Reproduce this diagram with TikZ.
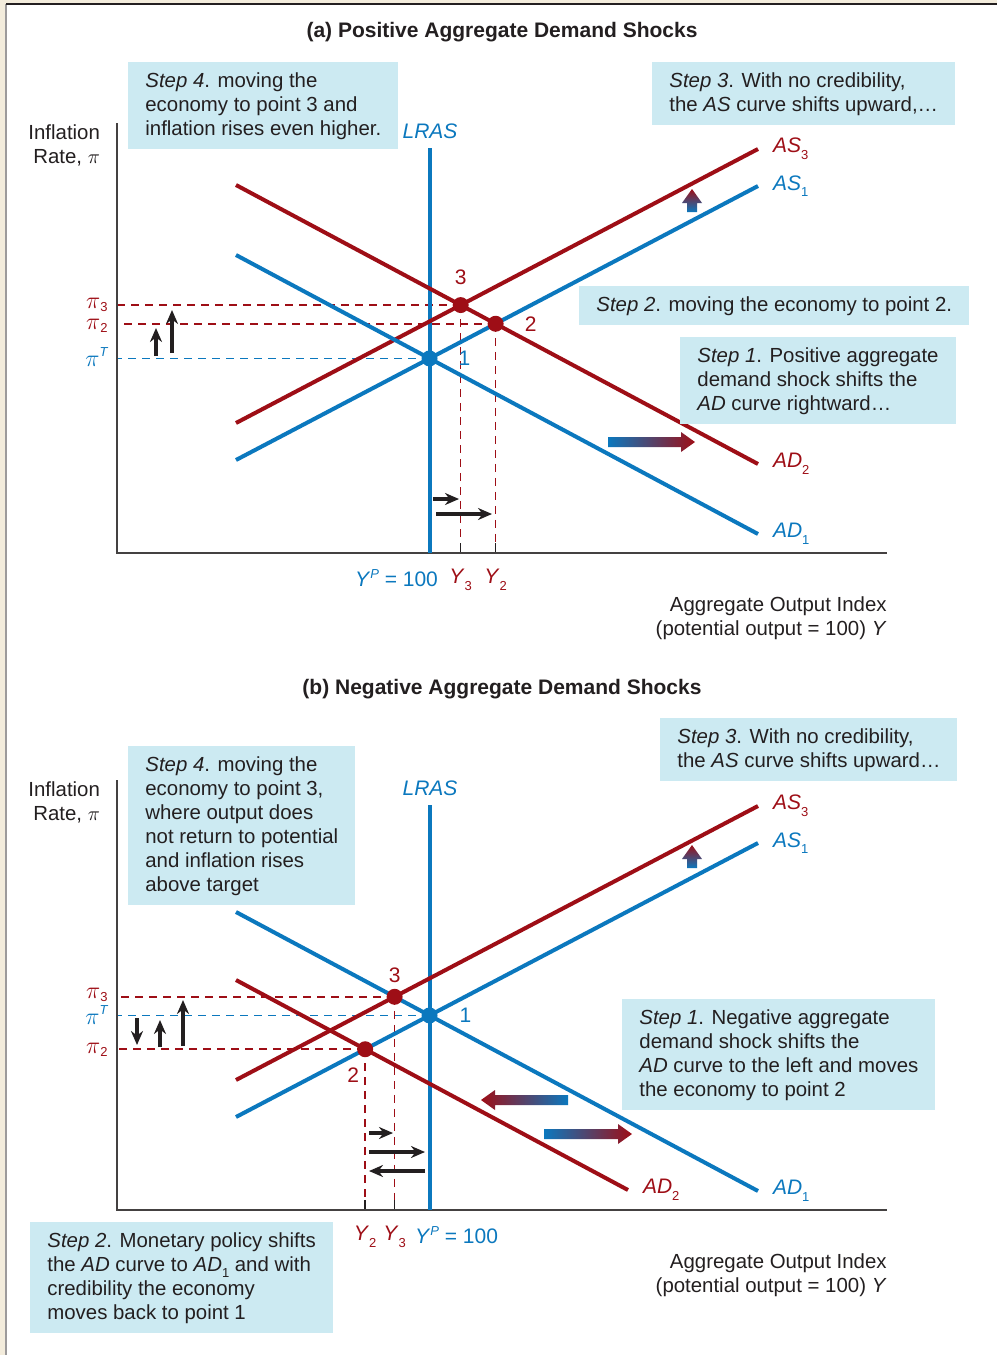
\documentclass[tikz,border=0pt]{standalone}
\usepackage{fontspec}
\setmainfont{Liberation Sans}
\usetikzlibrary{arrows.meta,positioning,calc}
\definecolor{adblue}{RGB}{11,120,190}
\definecolor{adred}{RGB}{158,14,22}
\definecolor{notefill}{RGB}{204,234,242}
\definecolor{inkgray}{RGB}{35,31,32}
\definecolor{pagebeige}{RGB}{243,236,220}
\newcommand{\lowsub}[1]{\raisebox{-0.6ex}{\fontsize{6.5}{7}\selectfont #1}}
\newcommand{\pisub}[1]{{\fontsize{12}{12}\selectfont$\pi$}\raisebox{-0.3ex}{\fontsize{6.5}{7}\selectfont #1}}
\newcommand{\pisup}[1]{{\fontsize{12}{12}\selectfont$\pi$}\raisebox{0.9ex}{\fontsize{6.5}{7}\selectfont\itshape #1}}

\begin{document}
\begin{tikzpicture}[x=0.5pt, y=-0.5pt,
    font=\fontsize{10.2}{12}\selectfont, text=inkgray,
    curve/.style={line width=2pt},
    axisline/.style={draw=inkgray!85, line width=1pt},
    guide/.style={dash pattern=on 4pt off 3pt, line width=0.8pt},
    tickmark/.style={draw=inkgray, line width=0.8pt},
    eqdot/.style={circle, fill=#1, inner sep=0pt, minimum size=8pt},
    note/.style={fill=notefill, anchor=north west, align=left,
      inner xsep=8.5pt, inner ysep=5pt},
    movearrow/.style={-{Stealth[length=7pt,width=6pt]}, line width=1.6pt, draw=inkgray},
    title/.style={font=\fontsize{10.5}{12}\selectfont\bfseries},
    ptlabel/.style={inner sep=0pt, font=\fontsize{10.5}{12}\selectfont},
    curvelab/.style={anchor=west, xshift=4pt, font=\fontsize{10.5}{12}\selectfont},
    pilab/.style={anchor=east, inner sep=1pt},
    shiftR/.style={left color=adblue, right color=adred},
    shiftL/.style={left color=adred, right color=adblue},
    shiftU/.style={bottom color=adblue, top color=adred}
  ]
    \useasboundingbox (0,0) rectangle (997,1355);
    \fill[pagebeige] (0,0) rectangle (997,1355);
    \fill[white] (6,4) rectangle (997,1355);
    \draw[inkgray!45, line width=0.8pt] (6,1355) -- (6,4);
    \draw[inkgray, line width=1.2pt] (6,4) -- (997,4);

    % ---------- (a) positive shocks ----------
    \node[title] (titlea) at (502,32) {(a) Positive Aggregate Demand Shocks};

    \coordinate (ytopa) at (117,123);
    \coordinate (origa) at (117,553);
    \coordinate (xenda) at (887,553);
    \coordinate (lrasa) at (430,148);
    \coordinate (as1aL) at (236,460); \coordinate (as1aR) at (758,186);
    \coordinate (as3aL) at (236,423); \coordinate (as3aR) at (758,149);
    \coordinate (ad1aL) at (236,255); \coordinate (ad1aR) at (758,534);
    \coordinate (ad2aL) at (236,185); \coordinate (ad2aR) at (758,464);
    \coordinate (e1a) at (intersection of as1aL--as1aR and ad1aL--ad1aR);
    \coordinate (e3a) at (intersection of as3aL--as3aR and ad2aL--ad2aR);
    \coordinate (e2a) at (intersection of as1aL--as1aR and ad2aL--ad2aR);

    \draw[guide, adred] (e3a) -- (e3a -| origa);
    \draw[guide, adred] (e2a) -- (e2a -| origa);
    \draw[guide, adblue] (e1a) -- (e1a -| origa);
    \draw[guide, adred] (e3a) -- ($(e3a |- origa)+(0,-10)$);
    \draw[guide, adred] (e2a) -- ($(e2a |- origa)+(0,-10)$);
    \draw[tickmark] (e3a |- origa) -- ++(0,-10);
    \draw[tickmark] (e2a |- origa) -- ++(0,-10);

    \draw[axisline] (ytopa) -- (origa) -- (xenda);
    \draw[curve, adblue] (e1a |- lrasa) -- (e1a |- origa);
    \draw[curve, adblue] (as1aL) -- (as1aR);
    \draw[curve, adred] (as3aL) -- (as3aR);
    \draw[curve, adblue] (ad1aL) -- (ad1aR);
    \draw[curve, adred] (ad2aL) -- (ad2aR);

    \node[eqdot=adblue] (pt1a) at (e1a) {};
    \node[eqdot=adred] (pt3a) at (e3a) {};
    \node[eqdot=adred] (pt2a) at (e2a) {};
    \node[ptlabel, adblue] (n1a) at ($(e1a)+(35,0)$) {1};
    \node[ptlabel, adred] (n3a) at ($(e3a)+(0,-28)$) {3};
    \node[ptlabel, adred] (n2a) at ($(e2a)+(35,0)$) {2};

    \node[adblue, font=\fontsize{10.5}{12}\selectfont\itshape, above=1pt of lrasa] (lraslaba) {LRAS};
    \node[curvelab, adred] (as3laba) at (as3aR) {\textit{AS}\lowsub{3}};
    \node[curvelab, adblue] (as1laba) at (as1aR) {\textit{AS}\lowsub{1}};
    \node[curvelab, adred] (ad2laba) at (ad2aR) {\textit{AD}\lowsub{2}};
    \node[curvelab, adblue] (ad1laba) at (ad1aR) {\textit{AD}\lowsub{1}};

    \node[pilab, adred] (pi3a) at (110,305) {\pisub{3}};
    \node[pilab, adred] (pi2a) at (110,326) {\pisub{2}};
    \node[pilab, adblue] (piTa) at (110,357) {\pisup{T}};
    \node[align=right, anchor=east] (ylaba) at (107,145) {Inflation\\Rate, $\pi$};

    \node[adblue, anchor=north east, font=\fontsize{10.5}{12}\selectfont] (yplaba) at (445,562) {\textit{Y}\raisebox{0.8ex}{\fontsize{6.5}{7}\selectfont\itshape P} = 100};
    \node[adred, anchor=north, font=\fontsize{10.5}{12}\selectfont] (y3laba) at (e3a |- yplaba.north) {\textit{Y}\lowsub{3}};
    \node[adred, anchor=north, font=\fontsize{10.5}{12}\selectfont] (y2laba) at (e2a |- yplaba.north) {\textit{Y}\lowsub{2}};
    \node[align=right, anchor=north east, inner sep=0pt] (xlaba) at (887,596)
      {Aggregate Output Index\\(potential output = 100) \textit{Y}};

    \coordinate (upa1) at (156,356); \coordinate (upa2) at (156,328);
    \coordinate (upa3) at (172,353); \coordinate (upa4) at (172,310);
    \draw[movearrow] (upa1) -- (upa2);
    \draw[movearrow] (upa3) -- (upa4);
    \coordinate (rta1) at (433,499); \coordinate (rta2) at (459,499);
    \coordinate (rta3) at (436,514); \coordinate (rta4) at (492,514);
    \draw[movearrow] (rta1) -- (rta2);
    \draw[movearrow] (rta3) -- (rta4);

    \coordinate (shifta) at (608,442);
    \shade[shiftR] (shifta) ++(0,-5) -- ++(73,0) -- ++(0,-5) -- ++(14,10)
      -- ++(-14,10) -- ++(0,-5) -- ++(-73,0) -- cycle;
    \coordinate (lifta) at (692,212);
    \shade[shiftU] (lifta) ++(-5,0) -- ++(0,-9) -- ++(-5,0) -- ++(10,-14)
      -- ++(10,14) -- ++(-5,0) -- ++(0,9) -- cycle;

    \node[note] (step4a) at (128,62) {\textit{Step 4}. moving the\\economy to point 3 and\\inflation rises even higher.};
    \node[note] (step3a) at (652,62) {\textit{Step 3}. With no credibility,\\the \textit{AS} curve shifts upward,\ldots};
    \node[note] (step2a) at (579,286) {\textit{Step 2}. moving the economy to point 2.};
    \node[note] (step1a) at (680,337) {\textit{Step 1}. Positive aggregate\\demand shock shifts the\\\textit{AD} curve rightward\ldots};

    % ---------- (b) negative shocks ----------
    \node[title] (titleb) at (502,689) {(b) Negative Aggregate Demand Shocks};

    \coordinate (ytopb) at (117,780);
    \coordinate (origb) at (117,1210);
    \coordinate (xendb) at (887,1210);
    \coordinate (lrasb) at (430,805);
    \coordinate (as1bL) at (236,1117); \coordinate (as1bR) at (758,843);
    \coordinate (as3bL) at (236,1080); \coordinate (as3bR) at (758,806);
    \coordinate (ad1bL) at (236,912); \coordinate (ad1bR) at (758,1191);
    \coordinate (ad2bL) at (236,980); \coordinate (ad2bR) at (628,1190);
    \coordinate (e1b) at (intersection of as1bL--as1bR and ad1bL--ad1bR);
    \coordinate (e3b) at (intersection of as3bL--as3bR and ad1bL--ad1bR);
    \coordinate (e2b) at (intersection of as1bL--as1bR and ad2bL--ad2bR);

    \draw[guide, adred] (e3b) -- (e3b -| origb);
    \draw[guide, adblue] (e1b) -- (e1b -| origb);
    \draw[guide, adred] (e2b) -- (e2b -| origb);
    \draw[guide, adred] (e3b) -- ($(e3b |- origb)+(0,-10)$);
    \draw[guide, adred] (e2b) -- ($(e2b |- origb)+(0,-10)$);
    \draw[tickmark] (e3b |- origb) -- ++(0,-10);
    \draw[tickmark] (e2b |- origb) -- ++(0,-10);

    \draw[axisline] (ytopb) -- (origb) -- (xendb);
    \draw[curve, adblue] (e1b |- lrasb) -- (e1b |- origb);
    \draw[curve, adblue] (as1bL) -- (as1bR);
    \draw[curve, adred] (as3bL) -- (as3bR);
    \draw[curve, adblue] (ad1bL) -- (ad1bR);
    \draw[curve, adred] (ad2bL) -- (ad2bR);

    \node[eqdot=adblue] (pt1b) at (e1b) {};
    \node[eqdot=adred] (pt3b) at (e3b) {};
    \node[eqdot=adred] (pt2b) at (e2b) {};
    \node[ptlabel, adblue] (n1b) at ($(e1b)+(36,0)$) {1};
    \node[ptlabel, adred] (n3b) at ($(e3b)+(0,-22)$) {3};
    \node[ptlabel, adred] (n2b) at ($(e2b)+(-12,26)$) {2};

    \node[adblue, font=\fontsize{10.5}{12}\selectfont\itshape, above=1pt of lrasb] (lraslabb) {LRAS};
    \node[curvelab, adred] (as3labb) at (as3bR) {\textit{AS}\lowsub{3}};
    \node[curvelab, adblue] (as1labb) at (as1bR) {\textit{AS}\lowsub{1}};
    \node[curvelab, adred] (ad2labb) at (ad2bR) {\textit{AD}\lowsub{2}};
    \node[curvelab, adblue] (ad1labb) at (ad1bR) {\textit{AD}\lowsub{1}};

    \node[pilab, adred] (pi3b) at (110,995) {\pisub{3}};
    \node[pilab, adblue] (piTb) at (110,1015) {\pisup{T}};
    \node[pilab, adred] (pi2b) at (110,1050) {\pisub{2}};
    \node[align=right, anchor=east] (ylabb) at (107,802) {Inflation\\Rate, $\pi$};

    \node[adblue, anchor=north west, font=\fontsize{10.5}{12}\selectfont] (yplabb) at (408,1219) {\textit{Y}\raisebox{0.8ex}{\fontsize{6.5}{7}\selectfont\itshape P} = 100};
    \node[adred, anchor=north, font=\fontsize{10.5}{12}\selectfont] (y3labb) at (e3b |- yplabb.north) {\textit{Y}\lowsub{3}};
    \node[adred, anchor=north, font=\fontsize{10.5}{12}\selectfont] (y2labb) at (e2b |- yplabb.north) {\textit{Y}\lowsub{2}};
    \node[align=right, anchor=north east, inner sep=0pt] (xlabb) at (887,1253)
      {Aggregate Output Index\\(potential output = 100) \textit{Y}};

    \coordinate (dnb1) at (137,1018); \coordinate (dnb2) at (137,1045);
    \coordinate (upb1) at (160,1047); \coordinate (upb2) at (160,1020);
    \coordinate (upb3) at (183,1046); \coordinate (upb4) at (183,1000);
    \draw[movearrow] (dnb1) -- (dnb2);
    \draw[movearrow] (upb1) -- (upb2);
    \draw[movearrow] (upb3) -- (upb4);
    \coordinate (rtb1) at (369,1133); \coordinate (rtb2) at (393,1133);
    \coordinate (rtb3) at (369,1152); \coordinate (rtb4) at (425,1152);
    \coordinate (ltb1) at (425,1171); \coordinate (ltb2) at (369,1171);
    \draw[movearrow] (rtb1) -- (rtb2);
    \draw[movearrow] (rtb3) -- (rtb4);
    \draw[movearrow] (ltb1) -- (ltb2);

    \coordinate (shiftb1) at (568,1100);
    \shade[shiftL] (shiftb1) ++(0,-5) -- ++(-73,0) -- ++(0,-5) -- ++(-14,10)
      -- ++(14,10) -- ++(0,-5) -- ++(73,0) -- cycle;
    \coordinate (shiftb2) at (544,1134);
    \shade[shiftR] (shiftb2) ++(0,-5) -- ++(74,0) -- ++(0,-5) -- ++(14,10)
      -- ++(-14,10) -- ++(0,-5) -- ++(-74,0) -- cycle;
    \coordinate (liftb) at (692,868);
    \shade[shiftU] (liftb) ++(-5,0) -- ++(0,-9) -- ++(-5,0) -- ++(10,-14)
      -- ++(10,14) -- ++(-5,0) -- ++(0,9) -- cycle;

    \node[note] (step3b) at (660,718) {\textit{Step 3}. With no credibility,\\the \textit{AS} curve shifts upward\ldots};
    \node[note] (step4b) at (128,746) {\textit{Step 4}. moving the\\economy to point 3,\\where output does\\not return to potential\\and inflation rises\\above target};
    \node[note] (step1b) at (622,999) {\textit{Step 1}. Negative aggregate\\demand shock shifts the\\\textit{AD} curve to the left and moves\\the economy to point 2};
    \node[note] (step2b) at (30,1222) {\textit{Step 2}. Monetary policy shifts\\the \textit{AD} curve to \textit{AD}\lowsub{1} and with\\credibility the economy\\moves back to point 1};
  \end{tikzpicture}
\end{document}
